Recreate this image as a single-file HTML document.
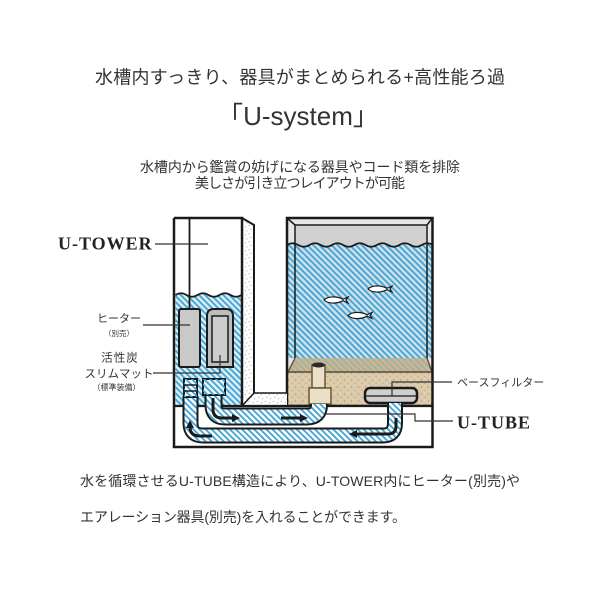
<!DOCTYPE html>
<html><head><meta charset="utf-8">
<style>
html,body{margin:0;padding:0;background:#fff;}
svg{display:block;}
.jp{font-family:"Liberation Sans","Noto Sans CJK JP",sans-serif;fill:#333;}
.sf{font-family:"Liberation Serif","Noto Serif CJK SC",serif;font-weight:bold;fill:#222;}
</style></head><body>
<svg width="600" height="600" viewBox="0 0 600 600" xmlns="http://www.w3.org/2000/svg">
<defs>
<pattern id="hatch" patternUnits="userSpaceOnUse" width="4.3" height="10" patternTransform="rotate(-45)">
<rect x="0" y="0" width="1.8" height="10" fill="#3fa3d4"/>
</pattern>
<pattern id="dots" patternUnits="userSpaceOnUse" width="8" height="8">
<rect width="8" height="8" fill="#fff"/>
<circle cx="1.2" cy="1.5" r="0.5" fill="#777"/>
<circle cx="5.3" cy="2.7" r="0.5" fill="#777"/>
<circle cx="3.1" cy="5.4" r="0.5" fill="#777"/>
<circle cx="6.8" cy="6.9" r="0.5" fill="#777"/>
</pattern>
<pattern id="sand" patternUnits="userSpaceOnUse" width="7" height="7">
<rect width="7" height="7" fill="#dbcaa9"/>
<circle cx="1.5" cy="2" r="0.6" fill="#a58c62"/>
<circle cx="5" cy="5.5" r="0.5" fill="#a8916a"/>
<circle cx="4.5" cy="1" r="0.5" fill="#f3ece0"/>
<circle cx="2" cy="5.5" r="0.4" fill="#f3ece0"/>
</pattern>
</defs>

<!-- Headings -->
<text class="jp" x="300" y="83.5" font-size="18" text-anchor="middle" textLength="410" lengthAdjust="spacing">水槽内すっきり、器具がまとめられる+高性能ろ過</text>
<text class="jp" x="298" y="125" font-size="26" text-anchor="middle">「U-system」</text>
<text class="jp" x="300" y="172" font-size="14" text-anchor="middle" textLength="320" lengthAdjust="spacing">水槽内から鑑賞の妨げになる器具やコード類を排除</text>
<text class="jp" x="300" y="188" font-size="14" text-anchor="middle" textLength="210" lengthAdjust="spacing">美しさが引き立つレイアウトが可能</text>

<!-- ===== TANK ===== -->
<rect x="287" y="218" width="146" height="188" fill="#e6e6e6"/>
<rect x="295" y="225" width="132" height="30" fill="#d0d0d0"/>
<path d="M287,245 q5.6,-3.5 11.23,0 t11.23,0 t11.23,0 t11.23,0 t11.23,0 t11.23,0 t11.23,0 t11.23,0 t11.23,0 t11.23,0 t11.23,0 t11.23,0 t11.23,0 L433,358 L287,358 Z" fill="#cde0ea"/>
<path d="M287,245 q5.6,-3.5 11.23,0 t11.23,0 t11.23,0 t11.23,0 t11.23,0 t11.23,0 t11.23,0 t11.23,0 t11.23,0 t11.23,0 t11.23,0 t11.23,0 t11.23,0 L433,358 L287,358 Z" fill="url(#hatch)"/>
<path d="M287,245 q5.6,-3.5 11.23,0 t11.23,0 t11.23,0 t11.23,0 t11.23,0 t11.23,0 t11.23,0 t11.23,0 t11.23,0 t11.23,0 t11.23,0 t11.23,0 t11.23,0" fill="none" stroke="#1a1a1a" stroke-width="1.8"/>
<!-- sand -->
<polygon points="295,358 427,358 433,372 287,372" fill="#cbb690"/>
<polygon points="295,358 427,358 433,372 287,372" fill="url(#hatch)" opacity="0.3"/>
<rect x="287" y="372" width="146" height="34" fill="url(#sand)"/>
<line x1="295" y1="358" x2="288" y2="372" stroke="#5a4a30" stroke-width="1.3"/>
<line x1="427" y1="358" x2="432" y2="372" stroke="#5a4a30" stroke-width="1.3"/>
<line x1="287" y1="372" x2="433" y2="372" stroke="#5a4a30" stroke-width="1.5"/>
<!-- glass lines -->
<polyline points="295,358 295,225 427,225 427,358" fill="none" stroke="#1a1a1a" stroke-width="1.5"/>
<line x1="287" y1="218" x2="295" y2="225" stroke="#1a1a1a" stroke-width="1.5"/>
<line x1="432.5" y1="218" x2="427" y2="225" stroke="#1a1a1a" stroke-width="1.5"/>
<!-- fish -->
<g fill="#fff" stroke="#1a1a1a" stroke-width="1.2">
<path d="M324,300 C328,296 337,296 343,299.3 L348,297 L346,300 L348,303 L343,300.7 C337,304 328,304 324,300 Z"/>
<path transform="translate(44,-11)" d="M324,300 C328,296 337,296 343,299.3 L348,297 L346,300 L348,303 L343,300.7 C337,304 328,304 324,300 Z"/>
<path transform="translate(24,15.5)" d="M324,300 C328,296 337,296 343,299.3 L348,297 L346,300 L348,303 L343,300.7 C337,304 328,304 324,300 Z"/>
</g>
<!-- riser -->
<rect x="312" y="365" width="13" height="23" fill="#eadfc8" stroke="#6b5530" stroke-width="1.5"/>
<rect x="309" y="388" width="22" height="16" fill="#eadfc8" stroke="#6b5530" stroke-width="1.5"/>
<ellipse cx="318.5" cy="365" rx="6.5" ry="2.5" fill="#2a2a2a"/>
<!-- base filter -->
<rect x="365" y="388" width="52" height="15" rx="5" fill="#cfcfcf" stroke="#1a1a1a" stroke-width="2.5"/>
<line x1="366" y1="396" x2="416" y2="396" stroke="#1a1a1a" stroke-width="1.3"/>
<!-- tank outline -->
<rect x="287" y="218" width="145.5" height="188" fill="none" stroke="#1a1a1a" stroke-width="2.5"/>

<!-- ===== TOWER ===== -->
<rect x="174" y="218" width="68" height="188" fill="#fff"/>
<path d="M175.5,295 q5.5,-3.5 11,0 t11,0 t11,0 t11,0 t11,0 t11,0 L242,406 L175.5,406 Z" fill="#dcedf5"/>
<path d="M175.5,295 q5.5,-3.5 11,0 t11,0 t11,0 t11,0 t11,0 t11,0 L242,406 L175.5,406 Z" fill="url(#hatch)"/>
<path d="M175.5,295 q5.5,-3.5 11,0 t11,0 t11,0 t11,0 t11,0 t11,0" fill="none" stroke="#1a1a1a" stroke-width="1.8"/>
<!-- side strip + floor -->
<polygon points="242,218 254,225 254,393 242,406" fill="url(#dots)"/>
<polygon points="242,406 254,393 287,393 287,406" fill="url(#dots)"/>
<polyline points="242,218 254,225 254,393" fill="none" stroke="#1a1a1a" stroke-width="2"/>
<line x1="242" y1="406" x2="254" y2="393" stroke="#1a1a1a" stroke-width="1.5"/>
<line x1="254" y1="393" x2="287" y2="393" stroke="#1a1a1a" stroke-width="1.5"/>
<!-- cord & heater -->
<line x1="189.5" y1="218" x2="189.5" y2="309" stroke="#1a1a1a" stroke-width="1.8"/>
<rect x="179" y="309" width="21" height="58" rx="2" fill="#c9c9c9" stroke="#1a1a1a" stroke-width="2"/>
<!-- mat -->
<path d="M207,367 L207,316 Q207,309 214,309 L226,309 Q233,309 233,316 L233,367 Z" fill="#bdbdbd" stroke="#1a1a1a" stroke-width="2"/>
<rect x="212" y="316" width="16" height="46" fill="#cdcdcd" stroke="#1a1a1a" stroke-width="1.5"/>

<!-- ===== BASE ===== -->
<rect x="174" y="406" width="258.5" height="41" fill="#fff"/>
<line x1="174" y1="406" x2="432.5" y2="406" stroke="#1a1a1a" stroke-width="2.2"/>
<!-- tubes -->
<g fill="none" stroke-linecap="butt" stroke-linejoin="round">
<path d="M213.5,395 L213.5,405 Q213.5,416.5 225,416.5 L307,416.5 Q319,416.5 319,405 L319,404" stroke="#1a1a1a" stroke-width="18"/>
<path d="M213.5,395 L213.5,405 Q213.5,416.5 225,416.5 L307,416.5 Q319,416.5 319,405 L319,404" stroke="#fff" stroke-width="14"/>
<path d="M213.5,395 L213.5,405 Q213.5,416.5 225,416.5 L307,416.5 Q319,416.5 319,405 L319,404" stroke="url(#hatch)" stroke-width="14"/>
<path d="M190.5,396 L190.5,423 Q190.5,435.5 203,435.5 L383,435.5 Q395,435.5 395,423 L395,403" stroke="#1a1a1a" stroke-width="16"/>
<path d="M190.5,396 L190.5,423 Q190.5,435.5 203,435.5 L383,435.5 Q395,435.5 395,423 L395,403" stroke="#fff" stroke-width="12"/>
<path d="M190.5,396 L190.5,423 Q190.5,435.5 203,435.5 L383,435.5 Q395,435.5 395,423 L395,403" stroke="url(#hatch)" stroke-width="12"/>
</g>
<!-- grating & box -->
<rect x="184" y="379" width="13" height="18" fill="#fff" stroke="#1a1a1a" stroke-width="2"/>
<rect x="184" y="379" width="13" height="18" fill="url(#hatch)"/>
<line x1="184" y1="385" x2="197" y2="385" stroke="#1a1a1a" stroke-width="1.5"/>
<line x1="184" y1="391" x2="197" y2="391" stroke="#1a1a1a" stroke-width="1.5"/>
<rect x="203" y="379" width="22" height="16" fill="#e8f4f9" stroke="#1a1a1a" stroke-width="2"/>
<rect x="203" y="379" width="22" height="16" fill="url(#hatch)"/>
<!-- arrows -->
<g fill="none" stroke="#1a1a1a" stroke-width="3">
<path d="M213,398 L213,409 Q213,418 222,418 L233,418"/>
<path d="M281,418 L301,418"/>
<path d="M212,436 L200,436 Q190,436 190,427"/>
<path d="M396,418 L396,426 Q396,434 388,434 L356,434"/>
</g>
<g fill="#1a1a1a">
<polygon points="232,414 240,418 232,422"/>
<polygon points="300,414 308,418 300,422"/>
<polygon points="186,428 190,420 194,428"/>
<polygon points="357,430 349,434 357,438"/>
</g>
<!-- outer outlines -->
<path d="M174,218 L174,447 L432.5,447 L432.5,406" fill="none" stroke="#1a1a1a" stroke-width="2.5"/>
<path d="M174,218 L242,218 L242,406" fill="none" stroke="#1a1a1a" stroke-width="2.5"/>

<!-- ===== LABELS ===== -->
<g stroke="#333" stroke-width="1.2" fill="none">
<line x1="155" y1="244" x2="208" y2="244"/>
<line x1="143" y1="325" x2="190" y2="325"/>
<polyline points="153,373 220,373 220,355"/>
<polyline points="392,396 392,382 452,382"/>
<polyline points="326,414 415,414 415,421 453,421"/>
</g>
<text class="sf" x="58" y="249.5" font-size="18" letter-spacing="1">U-TOWER</text>
<text class="sf" x="457" y="428.5" font-size="18" letter-spacing="1">U-TUBE</text>
<text class="jp" x="119" y="322" font-size="11" text-anchor="middle">ヒーター</text>
<text class="jp" x="119" y="336" font-size="7.5" text-anchor="middle">（別売）</text>
<text class="jp" x="120" y="361.5" font-size="11.5" text-anchor="middle" letter-spacing="1">活性炭</text>
<text class="jp" x="119" y="377.5" font-size="11.5" text-anchor="middle">スリムマット</text>
<text class="jp" x="116.5" y="390" font-size="8" text-anchor="middle">（標準装備）</text>
<text class="jp" x="457" y="386" font-size="11">ベースフィルター</text>

<!-- bottom text -->
<text class="jp" x="80" y="486" font-size="14" textLength="440" lengthAdjust="spacing">水を循環させるU-TUBE構造により、U-TOWER内にヒーター(別売)や</text>
<text class="jp" x="80" y="522" font-size="14" textLength="326" lengthAdjust="spacing">エアレーション器具(別売)を入れることができます。</text>
</svg>
</body></html>
